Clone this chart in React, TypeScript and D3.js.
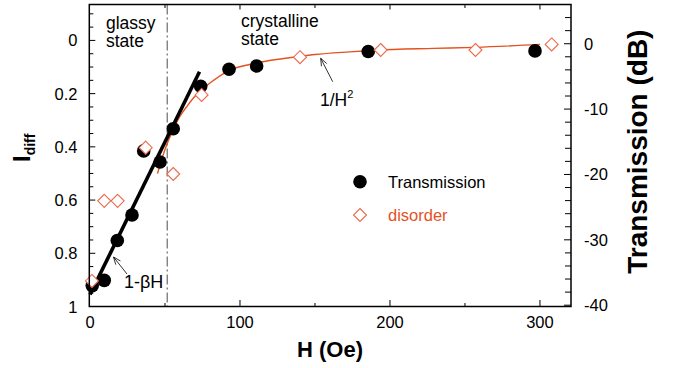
import React from "react";
import * as d3 from "d3";

// Transmission (black dots, right axis, dB)
const transH = [1.5, 9.5, 18.2, 28, 35.8, 46.7, 55.5, 73.8, 92.7, 111.1, 185.5, 296.7];
const transDb = [-37, -36.2, -30.1, -26.2, -16.4, -18.1, -13.0, -6.5, -3.9, -3.4, -1.2, -1.1];

// disorder (open diamonds, left axis, Idiff)
const disH = [1.3, 9.5, 18.4, 37.1, 55.5, 74.4, 140, 193.8, 257, 307.8];
const disI = [0.904, 0.603, 0.603, 0.403, 0.502, 0.205, 0.063, 0.036, 0.036, 0.015];

// 1/H^2 curve
const curveH = [45, 50, 55, 60, 65, 70, 75, 80, 92, 111, 140, 150, 173, 190, 229, 257, 300];
const curveI = [0.5, 0.41, 0.34, 0.285, 0.245, 0.21, 0.183, 0.16, 0.115, 0.085, 0.06, 0.053, 0.043, 0.037, 0.03, 0.026, 0.015];

// 1-beta*H line
const fitH = [0, 73];
const fitI = [0.955, 0.118];

const boundaryH = 51.5;

const xTicks = [0, 100, 200, 300];
const leftTicks = [0, 0.2, 0.4, 0.6, 0.8, 1];
const rightTicks = [0, -10, -20, -30, -40];

const FONT = "'Liberation Sans', Arial, Helvetica, sans-serif";
const ORANGE = "#e4521f";
const DIAMOND = "#ec6a4c";

export default function App() {
  const left = 89.3, right = 571, top = 4.5, bottom = 306.5;

  const x = d3.scaleLinear().domain([-0.47, 320.7]).range([left, right]);
  const yL = d3.scaleLinear().domain([-0.135, 1]).range([top, bottom]);
  const yR = d3.scaleLinear().domain([-40.2, 6]).range([bottom, top]);

  const curve = d3.line<number>()
    .x((_, i) => x(curveH[i]))
    .y(d => yL(d))
    .curve(d3.curveMonotoneX)(curveI);

  const fit = d3.line<number>()
    .x((_, i) => x(fitH[i]))
    .y(d => yL(d))(fitI);

  const leftMinor = d3.range(-0.1, 1.001, 0.05);
  const rightMinor = d3.range(-40, 6.01, 2);
  const xMinor = d3.range(50, 301, 50);

  const diamond = (cx: number, cy: number, r: number) =>
    `M${cx},${cy - r}L${cx + r},${cy}L${cx},${cy + r}L${cx - r},${cy}Z`;

  const arrow = (x1: number, y1: number, x2: number, y2: number) => {
    // tail (x1,y1) -> head (x2,y2), open arrowhead
    const a = Math.atan2(y2 - y1, x2 - x1);
    const L = 8, w = 0.38;
    const p1 = [x2 - L * Math.cos(a - w), y2 - L * Math.sin(a - w)];
    const p2 = [x2 - L * Math.cos(a + w), y2 - L * Math.sin(a + w)];
    return `M${x1},${y1}L${x2},${y2}M${p1[0]},${p1[1]}L${x2},${y2}L${p2[0]},${p2[1]}`;
  };

  return (
    <svg width={678} height={368} style={{ position: "absolute", left: 0, top: 0, background: "#fff" }}
      fontFamily={FONT}>
      {/* left ticks */}
      {leftMinor.map((v, i) => {
        const major = Math.abs(v * 5 - Math.round(v * 5)) < 1e-6;
        return <line key={"lt" + i} x1={left} x2={left + (major ? 6 : 4)} y1={yL(v)} y2={yL(v)} stroke="#000" strokeWidth={1} />;
      })}
      {/* right ticks */}
      {rightMinor.map((v, i) => (
        <line key={"rt" + i} x1={right} x2={right - (Math.round(v) % 10 === 0 ? 7 : 6)} y1={yR(v)} y2={yR(v)} stroke="#000" strokeWidth={1} />
      ))}
      {/* bottom/top ticks */}
      {xMinor.map((v, i) => {
        const major = v % 100 === 0;
        return (
          <g key={"xt" + i}>
            <line x1={x(v)} x2={x(v)} y1={bottom} y2={bottom - (major ? 6.5 : 3.5)} stroke="#000" strokeWidth={1} />
            <line x1={x(v)} x2={x(v)} y1={top} y2={top + (major ? 5 : 3.5)} stroke="#000" strokeWidth={1} />
          </g>
        );
      })}

      {/* glassy / crystalline boundary */}
      <line x1={x(boundaryH)} x2={x(boundaryH)} y1={top} y2={bottom} stroke="#777" strokeWidth={1.3} strokeDasharray="10,3,2,3" />

      {/* fits */}
      <path d={curve ?? ""} fill="none" stroke={ORANGE} strokeWidth={1.4} />
      <path d={fit ?? ""} fill="none" stroke="#000" strokeWidth={3.6} />

      {/* markers */}
      {transH.map((h, i) => (
        <circle key={"d" + i} cx={x(h)} cy={yR(transDb[i])} r={6.8} fill="#000" />
      ))}
      {disH.map((h, i) => (
        <path key={"m" + i} d={diamond(x(h), yL(disI[i]), 6.5)} fill="#fff" stroke={DIAMOND} strokeWidth={1.1} />
      ))}

      {/* frame */}
      <rect x={left} y={top} width={right - left} height={bottom - top} fill="none" stroke="#000" strokeWidth={1.5} />

      {/* tick labels */}
      <g fontSize={16.5} fill="#000">
        {leftTicks.map(v => (
          <text key={"ll" + v} x={77.5} y={yL(v)} textAnchor="end" dominantBaseline="central">{String(v)}</text>
        ))}
        {rightTicks.map(v => (
          <text key={"rl" + v} x={584} y={yR(v)} textAnchor="start" dominantBaseline="central">{String(v)}</text>
        ))}
        {xTicks.map(v => (
          <text key={"xl" + v} x={x(v)} y={327.5} textAnchor="middle">{String(v)}</text>
        ))}
      </g>

      {/* axis titles */}
      <text x={330} y={356.5} textAnchor="middle" fontSize={22} fontWeight="bold">H (Oe)</text>
      <text transform="translate(647,151.7) rotate(-90)" textAnchor="middle" fontSize={28} fontWeight="bold">Transmission (dB)</text>
      <text transform="translate(30,162) rotate(-90)" fontSize={24} fontWeight="bold">
        I<tspan fontSize={14} dy={5}>diff</tspan>
      </text>

      {/* annotations */}
      <g fontSize={17.5} fill="#000">
        <text x={106} y={29.3}>glassy</text>
        <text x={106} y={47.3}>state</text>
        <text x={241} y={26.7}>crystalline</text>
        <text x={241} y={45}>state</text>
        <text x={124} y={288.3} fontSize={18}>1-βH</text>
        <text x={320} y={106}>1/H<tspan fontSize={11} dy={-8}>2</tspan></text>
      </g>
      <path d={arrow(127, 274, 113.5, 257)} fill="none" stroke="#000" strokeWidth={0.8} />
      <path d={arrow(332.7, 81.7, 320.7, 58.3)} fill="none" stroke="#000" strokeWidth={0.8} />

      {/* legend */}
      <circle cx={360} cy={181.7} r={6.8} fill="#000" />
      <text x={388} y={187.5} fontSize={16.5}>Transmission</text>
      <path d={diamond(360, 215, 6.5)} fill="#fff" stroke={DIAMOND} strokeWidth={1.1} />
      <text x={388} y={221} fontSize={16.5} fill={ORANGE}>disorder</text>
    </svg>
  );
}
